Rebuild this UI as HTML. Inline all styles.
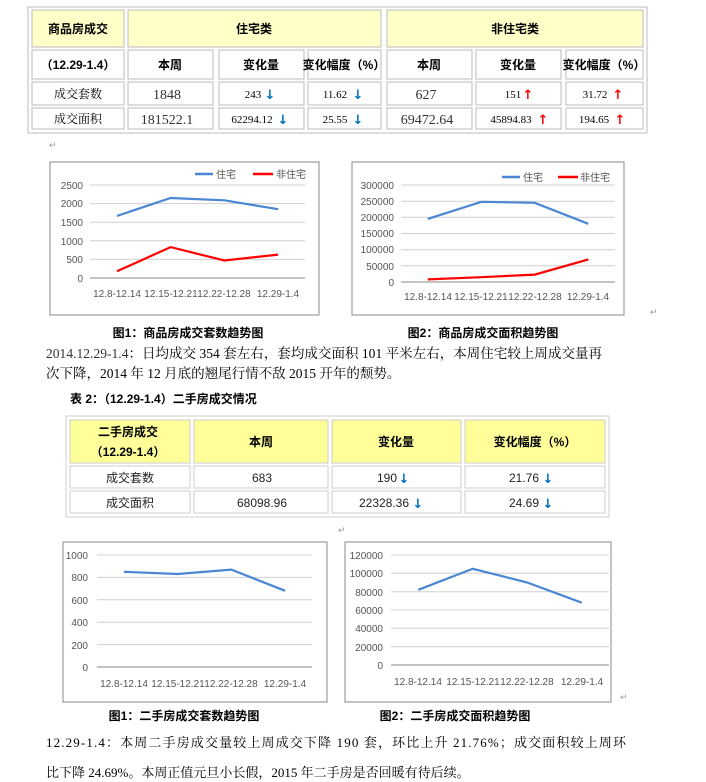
<!DOCTYPE html>
<html><head><meta charset="utf-8"><style>
html,body{margin:0;padding:0;background:#fff;}
svg{display:block;}
.t{font-family:"Liberation Serif","Noto Serif CJK SC",serif;}
.s{font-family:"Liberation Sans","Noto Sans CJK SC",sans-serif;}
.b{font-weight:bold;}
.ax{font-family:"Liberation Sans","Noto Sans CJK SC",sans-serif;font-size:10px;fill:#555;}
.g{stroke:#d0d0d0;stroke-width:1;}
.rm{fill:#999;font-size:9px;font-family:"Liberation Sans",sans-serif;}
</style></head><body>
<svg width="706" height="782" viewBox="0 0 706 782" xmlns="http://www.w3.org/2000/svg">
<rect x="28" y="7" width="619" height="126" fill="#fff" stroke="#bbb"/>
<g fill="#ffffc8" stroke="#bbb">
<rect x="32" y="10" width="92" height="37"/>
<rect x="128" y="10" width="253" height="37"/>
<rect x="387" y="10" width="256" height="37"/>
</g>
<g fill="#fff" stroke="#bbb">
<rect x="32" y="50" width="92" height="29"/><rect x="128" y="50" width="85" height="29"/><rect x="219" y="50" width="85" height="29"/><rect x="308" y="50" width="73" height="29"/><rect x="387" y="50" width="85" height="29"/><rect x="476" y="50" width="85" height="29"/><rect x="566" y="50" width="77" height="29"/>
<rect x="32" y="82" width="92" height="23"/><rect x="128" y="82" width="85" height="23"/><rect x="219" y="82" width="85" height="23"/><rect x="308" y="82" width="73" height="23"/><rect x="387" y="82" width="85" height="23"/><rect x="476" y="82" width="85" height="23"/><rect x="566" y="82" width="77" height="23"/>
<rect x="32" y="108" width="92" height="21"/><rect x="128" y="108" width="85" height="21"/><rect x="219" y="108" width="85" height="21"/><rect x="308" y="108" width="73" height="21"/><rect x="387" y="108" width="85" height="21"/><rect x="476" y="108" width="85" height="21"/><rect x="566" y="108" width="77" height="21"/>
</g>
<g class="s b" font-size="12" text-anchor="middle" fill="#000">
<text x="78" y="33">商品房成交</text><text x="254" y="33">住宅类</text><text x="515" y="33">非住宅类</text>
<text x="78" y="69">（12.29-1.4）</text><text x="170" y="69">本周</text><text x="261" y="69">变化量</text><text x="344" y="69">变化幅度（%）</text>
<text x="429" y="69">本周</text><text x="518" y="69">变化量</text><text x="604" y="69">变化幅度（%）</text>
</g>
<g class="t" font-size="12" text-anchor="middle" fill="#000">
<text x="78" y="98">成交套数</text><text x="78" y="123">成交面积</text>
</g>
<g class="t" font-size="14" text-anchor="middle" fill="#333">
<text x="167" y="99">1848</text><text x="426" y="99">627</text>
<text x="167" y="124">181522.1</text><text x="427" y="124">69472.64</text>
</g>
<g class="t" font-size="11" text-anchor="middle" fill="#000">
<text x="253" y="98">243</text><text x="335" y="98">11.62</text><text x="513" y="98">151</text><text x="595" y="98">31.72</text>
<text x="252" y="123">62294.12</text><text x="335" y="123">25.55</text><text x="511" y="123">45894.83</text><text x="594" y="123">194.65</text>
</g>
<g font-size="13" font-family="DejaVu Sans" font-weight="bold" text-anchor="middle">
<text x="270" y="99" fill="#0070c0">↓</text><text x="358" y="99" fill="#0070c0">↓</text><text x="528" y="99" fill="#f00">↑</text><text x="618" y="99" fill="#f00">↑</text>
<text x="283" y="124" fill="#0070c0">↓</text><text x="358" y="124" fill="#0070c0">↓</text><text x="543" y="124" fill="#f00">↑</text><text x="620" y="124" fill="#f00">↑</text>
</g>
<text class="rm" x="49" y="148">↵</text>

<rect x="50" y="162" width="269" height="153" fill="#fff" stroke="#888"/>
<g class="g"><line x1="90" y1="185" x2="305" y2="185"/><line x1="90" y1="203.6" x2="305" y2="203.6"/><line x1="90" y1="222.2" x2="305" y2="222.2"/><line x1="90" y1="240.8" x2="305" y2="240.8"/><line x1="90" y1="259.4" x2="305" y2="259.4"/></g>
<line x1="90" y1="278" x2="305" y2="278" stroke="#888"/>
<g class="ax" text-anchor="end"><text x="83" y="189">2500</text><text x="83" y="207">2000</text><text x="83" y="226">1500</text><text x="83" y="245">1000</text><text x="83" y="263">500</text><text x="83" y="282">0</text></g>
<g class="ax" text-anchor="middle"><text x="117" y="297">12.8-12.14</text><text x="171" y="297">12.15-12.21</text><text x="224" y="297">12.22-12.28</text><text x="278" y="297">12.29-1.4</text></g>
<polyline points="117,215.9 170.6,198 224.4,200.3 278.1,209.2" fill="none" stroke="#4a86d4" stroke-width="2.2"/>
<polyline points="117,271.3 170.6,247.1 224.4,260.5 278.1,254.6" fill="none" stroke="#f00" stroke-width="2.2"/>
<line x1="195" y1="174" x2="213" y2="174" stroke="#4a86d4" stroke-width="2.5"/><text class="ax" x="216" y="178">住宅</text>
<line x1="253" y1="174" x2="273" y2="174" stroke="#f00" stroke-width="2.5"/><text class="ax" x="276" y="178">非住宅</text>

<rect x="352" y="162" width="272" height="153" fill="#fff" stroke="#888"/>
<g class="g"><line x1="401" y1="185" x2="615" y2="185"/><line x1="401" y1="201.2" x2="615" y2="201.2"/><line x1="401" y1="217.3" x2="615" y2="217.3"/><line x1="401" y1="233.5" x2="615" y2="233.5"/><line x1="401" y1="249.7" x2="615" y2="249.7"/><line x1="401" y1="265.8" x2="615" y2="265.8"/></g>
<line x1="401" y1="282" x2="615" y2="282" stroke="#888"/>
<g class="ax" text-anchor="end"><text x="394" y="189">300000</text><text x="394" y="205">250000</text><text x="394" y="221">200000</text><text x="394" y="237">150000</text><text x="394" y="253">100000</text><text x="394" y="270">50000</text><text x="394" y="286">0</text></g>
<g class="ax" text-anchor="middle"><text x="428" y="300">12.8-12.14</text><text x="481" y="300">12.15-12.21</text><text x="535" y="300">12.22-12.28</text><text x="588" y="300">12.29-1.4</text></g>
<polyline points="427.8,218.9 481.3,201.8 534.8,202.8 588.3,223.8" fill="none" stroke="#4a86d4" stroke-width="2.2"/>
<polyline points="427.8,279.4 481.3,277.2 534.8,274.6 588.3,259.4" fill="none" stroke="#f00" stroke-width="2.2"/>
<line x1="502" y1="177" x2="520" y2="177" stroke="#4a86d4" stroke-width="2.5"/><text class="ax" x="523" y="181">住宅</text>
<line x1="558" y1="177" x2="578" y2="177" stroke="#f00" stroke-width="2.5"/><text class="ax" x="580" y="181">非住宅</text>
<text class="rm" x="650" y="315">↵</text>

<g class="s b" font-size="12" fill="#000" text-anchor="middle"><text x="188" y="337">图1：商品房成交套数趋势图</text><text x="483" y="337">图2：商品房成交面积趋势图</text></g>
<g class="t" font-size="13.5" fill="#000">
<text x="46" y="358" textLength="556"><tspan fill="#333">2014.12.29-1.4</tspan>：日均成交 354 套左右，套均成交面积 101 平米左右，本周住宅较上周成交量再</text>
<text x="46" y="378">次下降，2014 年 12 月底的翘尾行情不敌 2015 开年的颓势。</text>
</g>
<text class="s b" font-size="12" x="70" y="403">表 2：（12.29-1.4）二手房成交情况</text>

<rect x="66" y="416" width="543" height="101" fill="#fff" stroke="#ccc"/>
<g fill="#ffff99" stroke="#ccc"><rect x="70" y="420" width="120" height="43"/><rect x="194" y="420" width="134" height="43"/><rect x="332" y="420" width="129" height="43"/><rect x="465" y="420" width="140" height="43"/></g>
<g fill="#fff" stroke="#ccc"><rect x="70" y="466" width="120" height="22"/><rect x="194" y="466" width="134" height="22"/><rect x="332" y="466" width="129" height="22"/><rect x="465" y="466" width="140" height="22"/>
<rect x="70" y="491" width="120" height="22"/><rect x="194" y="491" width="134" height="22"/><rect x="332" y="491" width="129" height="22"/><rect x="465" y="491" width="140" height="22"/></g>
<g class="s b" font-size="12" text-anchor="middle" fill="#000"><text x="128" y="436">二手房成交</text><text x="128" y="456">（12.29-1.4）</text><text x="261" y="446">本周</text><text x="396" y="446">变化量</text><text x="535" y="446">变化幅度（%）</text></g>
<g class="s" font-size="12" text-anchor="middle" fill="#222"><text x="130" y="482">成交套数</text><text x="130" y="507">成交面积</text><text x="262" y="482">683</text><text x="262" y="507">68098.96</text><text x="387" y="482">190</text><text x="384" y="507">22328.36</text><text x="524" y="482">21.76</text><text x="524" y="507">24.69</text></g>
<g font-size="13" font-family="DejaVu Sans" font-weight="bold" fill="#0070c0" text-anchor="middle"><text x="404" y="483">↓</text><text x="418" y="508">↓</text><text x="548" y="483">↓</text><text x="548" y="508">↓</text></g>
<text class="rm" x="338" y="533">↵</text>

<rect x="63" y="542" width="264" height="160" fill="#fff" stroke="#888"/>
<g class="g"><line x1="97" y1="555" x2="312" y2="555"/><line x1="97" y1="577.4" x2="312" y2="577.4"/><line x1="97" y1="599.8" x2="312" y2="599.8"/><line x1="97" y1="622.2" x2="312" y2="622.2"/><line x1="97" y1="644.6" x2="312" y2="644.6"/></g>
<line x1="97" y1="667" x2="312" y2="667" stroke="#888"/>
<g class="ax" text-anchor="end"><text x="88" y="559">1000</text><text x="88" y="581">800</text><text x="88" y="604">600</text><text x="88" y="626">400</text><text x="88" y="649">200</text><text x="88" y="671">0</text></g>
<g class="ax" text-anchor="middle"><text x="124" y="687">12.8-12.14</text><text x="178" y="687">12.15-12.21</text><text x="231" y="687">12.22-12.28</text><text x="285" y="687">12.29-1.4</text></g>
<polyline points="123.9,571.8 177.6,574 231.4,569.6 285.1,590.8" fill="none" stroke="#4a86d4" stroke-width="2.2"/>

<rect x="345" y="542" width="266" height="160" fill="#fff" stroke="#888"/>
<g class="g"><line x1="391" y1="555" x2="609" y2="555"/><line x1="391" y1="573.3" x2="609" y2="573.3"/><line x1="391" y1="591.7" x2="609" y2="591.7"/><line x1="391" y1="610" x2="609" y2="610"/><line x1="391" y1="628.3" x2="609" y2="628.3"/><line x1="391" y1="646.7" x2="609" y2="646.7"/></g>
<line x1="391" y1="665" x2="609" y2="665" stroke="#888"/>
<g class="ax" text-anchor="end"><text x="383" y="559">120000</text><text x="383" y="577">100000</text><text x="383" y="596">80000</text><text x="383" y="614">60000</text><text x="383" y="632">40000</text><text x="383" y="651">20000</text><text x="383" y="669">0</text></g>
<g class="ax" text-anchor="middle"><text x="418" y="685">12.8-12.14</text><text x="473" y="685">12.15-12.21</text><text x="527" y="685">12.22-12.28</text><text x="582" y="685">12.29-1.4</text></g>
<polyline points="418.25,589.8 472.75,568.75 527.25,582.5 581.75,602.7" fill="none" stroke="#4a86d4" stroke-width="2.2"/>
<text class="rm" x="620" y="700">↵</text>

<g class="s b" font-size="12" fill="#000" text-anchor="middle"><text x="184" y="720">图1：二手房成交套数趋势图</text><text x="455" y="720">图2：二手房成交面积趋势图</text></g>
<g class="t" font-size="13" fill="#000">
<text x="46" y="747" textLength="580">12.29-1.4：本周二手房成交量较上周成交下降 190 套，环比上升 21.76%；成交面积较上周环</text>
<text x="46" y="777">比下降 24.69%。本周正值元旦小长假，2015 年二手房是否回暖有待后续。</text>
</g>
</svg>
</body></html>
